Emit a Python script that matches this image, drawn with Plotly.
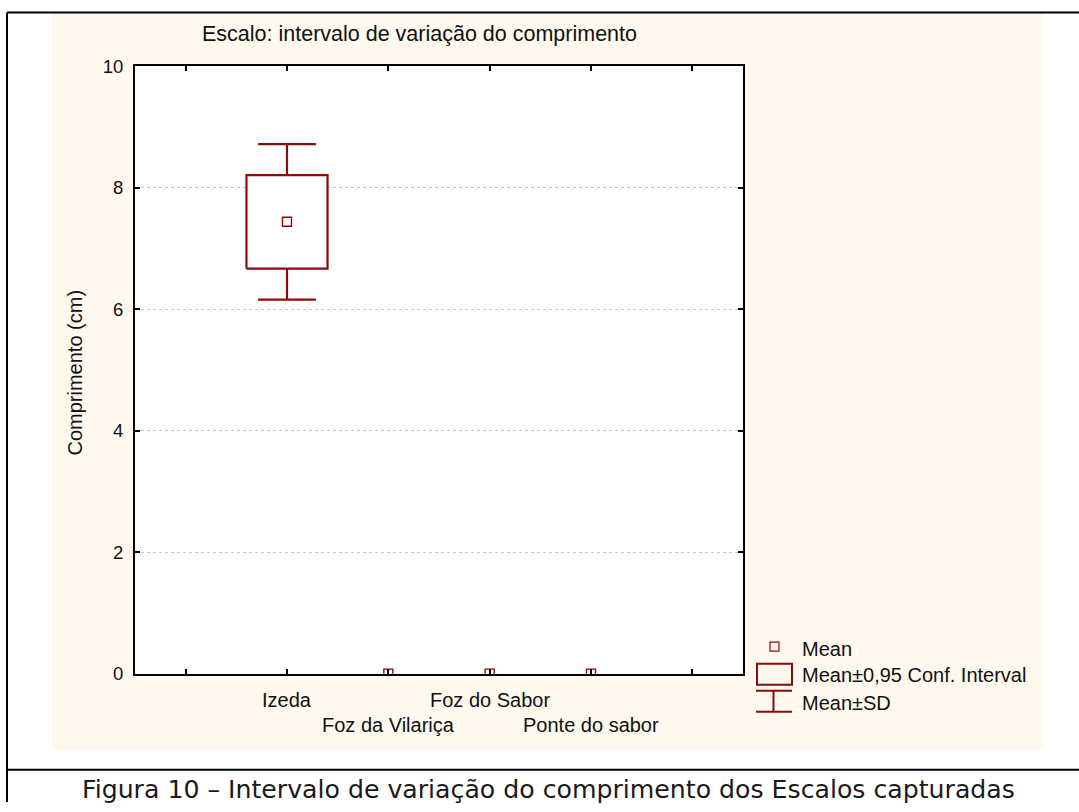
import plotly.graph_objects as go

# Sites and summary statistics of length (cm)
categories = ["Izeda", "Foz da Vilariça", "Foz do Sabor", "Ponte do sabor"]
positions = [1, 2, 3, 4]
means = [7.44, 0.0, 0.0, 0.0]
ci95 = [0.77, 0.0, 0.0, 0.0]
sd = [1.28, 0.0, 0.0, 0.0]

W, H = 1079, 812
RED = "#8B0A0A"
BEIGE = "#FEF9EE"
FONT = "Liberation Sans, Arial, sans-serif"
TXT = "#111111"

# vertical page mapping
Y_OFF, Y_SCALE = 10.7, 0.9736


def px(x):
    return x / W


def py(y):
    yy = (y - Y_OFF) / Y_SCALE
    return min(1.0, max(0.0, 1 - yy / H))


box_half = 0.4
cap_half = 0.285

fig = go.Figure()

# Mean ± SD whiskers (only the parts outside the CI box)
wx, wy = [], []
for p, m, c, s in zip(positions, means, ci95, sd):
    if s <= 0:
        continue
    for sign in (1, -1):
        wx += [p, p, None, p - cap_half, p + cap_half, None]
        wy += [m + sign * c, m + sign * s, None, m + sign * s, m + sign * s, None]
fig.add_trace(go.Scatter(x=wx, y=wy, mode="lines",
                         line=dict(color=RED, width=2.2), hoverinfo="skip",
                         showlegend=False))

# Mean ± 0.95 confidence interval boxes
for p, m, c in zip(positions, means, ci95):
    if c <= 0:
        continue
    fig.add_trace(go.Scatter(
        x=[p - box_half, p + box_half, p + box_half, p - box_half, p - box_half],
        y=[m - c, m - c, m + c, m + c, m - c],
        mode="lines", fill="toself", fillcolor="white",
        line=dict(color=RED, width=2.2), hoverinfo="skip", showlegend=False))

# Means
fig.add_trace(go.Scatter(x=positions, y=means, mode="markers",
                         marker=dict(symbol="square-open", size=9,
                                     color=RED, line=dict(width=1.4)),
                         showlegend=False))

top_line = 1 - 1.5 / H

shapes = [
    # panel background
    dict(type="rect", xref="paper", yref="paper", x0=px(52), x1=px(1043),
         y0=py(749), y1=top_line, fillcolor=BEIGE, line=dict(width=0), layer="below"),
    # plot area background
    dict(type="rect", xref="paper", yref="paper", x0=px(135), x1=px(743),
         y0=py(673), y1=py(66), fillcolor="white", line=dict(width=0), layer="below"),
    # outer frame and caption separator
    dict(type="line", xref="paper", yref="paper", x0=px(7), x1=px(7),
         y0=0, y1=top_line, line=dict(color="black", width=2)),
    dict(type="line", xref="paper", yref="paper", x0=px(7), x1=1,
         y0=top_line, y1=top_line, line=dict(color="black", width=2)),
    dict(type="line", xref="paper", yref="paper", x0=px(7), x1=1,
         y0=py(769), y1=py(769), line=dict(color="black", width=2)),
    # legend glyphs
    dict(type="rect", xref="paper", yref="paper", x0=px(770), x1=px(779),
         y0=py(650.5), y1=py(641.5), line=dict(color=RED, width=1.2)),
    dict(type="rect", xref="paper", yref="paper", x0=px(757), x1=px(792),
         y0=py(684), y1=py(663), line=dict(color=RED, width=2)),
    dict(type="line", xref="paper", yref="paper", x0=px(756), x1=px(792),
         y0=py(690), y1=py(690), line=dict(color=RED, width=2)),
    dict(type="line", xref="paper", yref="paper", x0=px(756), x1=px(792),
         y0=py(711), y1=py(711), line=dict(color=RED, width=2)),
    dict(type="line", xref="paper", yref="paper", x0=px(773.5), x1=px(773.5),
         y0=py(711), y1=py(690), line=dict(color=RED, width=2)),
]

annotations = []
# category labels, staggered on two rows
for i, (p, name) in enumerate(zip(positions, categories)):
    annotations.append(dict(x=p, xref="x", y=py(699 if i % 2 == 0 else 724),
                            yref="paper", text=name, showarrow=False,
                            font=dict(family=FONT, size=20, color=TXT),
                            xanchor="center", yanchor="middle"))

legend_items = [("Mean", 648), ("Mean±0,95 Conf. Interval", 674), ("Mean±SD", 702)]
for text, yy in legend_items:
    annotations.append(dict(x=px(800), xref="paper", y=py(yy), yref="paper",
                            text=text, showarrow=False, xanchor="left",
                            yanchor="middle",
                            font=dict(family=FONT, size=20, color=TXT)))

annotations.append(dict(x=px(200), xref="paper", y=py(34), yref="paper",
                        text="Escalo: intervalo de variação do comprimento",
                        showarrow=False, xanchor="left", yanchor="middle",
                        font=dict(family=FONT, size=21.5, color=TXT)))
annotations.append(dict(x=px(75), xref="paper", y=py(372), yref="paper",
                        text="Comprimento (cm)", textangle=-90,
                        showarrow=False, xanchor="center", yanchor="middle",
                        font=dict(family=FONT, size=20, color=TXT)))
annotations.append(dict(x=px(548), xref="paper", y=py(789), yref="paper",
                        text="Figura 10 – Intervalo de variação do comprimento dos Escalos capturadas",
                        showarrow=False, xanchor="center", yanchor="middle",
                        font=dict(family="DejaVu Sans, Verdana, sans-serif",
                                  size=25.2, color="#1a1a1a")))

fig.update_layout(
    width=W, height=H,
    margin=dict(l=0, r=0, t=0, b=0),
    paper_bgcolor="white",
    plot_bgcolor="rgba(0,0,0,0)",
    shapes=shapes,
    annotations=annotations,
    showlegend=False,
    xaxis=dict(domain=[px(135), px(743)], range=[-0.5, 5.5],
               tickvals=[0, 1, 2, 3, 4, 5], showticklabels=False,
               ticks="inside", ticklen=5, tickwidth=1.5, tickcolor="black",
               showline=True, linecolor="black", linewidth=2, mirror="ticks",
               showgrid=False, zeroline=False, fixedrange=True),
    yaxis=dict(domain=[py(673), py(66)], range=[0, 10], dtick=2,
               ticks="inside", ticklen=5, tickwidth=1.5, tickcolor="black",
               showline=True, linecolor="black", linewidth=2, mirror="ticks",
               showgrid=True, gridcolor="#c4c4c4", griddash="dot", gridwidth=1,
               zeroline=False, ticklabelstandoff=6,
               tickfont=dict(family=FONT, size=18.5, color=TXT),
               fixedrange=True),
)

fig.write_html("out.html",
               post_script="document.body.style.margin='0';")
